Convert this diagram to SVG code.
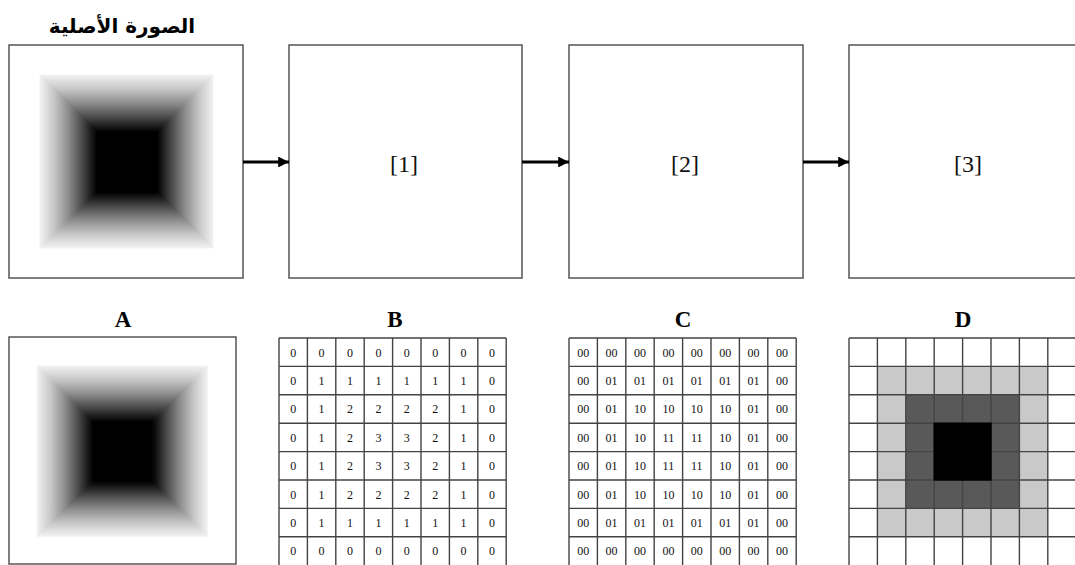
<svg xmlns="http://www.w3.org/2000/svg" width="1075" height="565" viewBox="0 0 1075 565">
<style>
.box{fill:#fff;stroke:#555;stroke-width:1.5}
.lbl{font-family:"Liberation Serif",serif;font-size:24px;fill:#111;text-anchor:middle}
.hd{font-family:"Liberation Serif",serif;font-size:23px;font-weight:bold;fill:#000;text-anchor:middle}
.ar{font-family:"DejaVu Sans","Liberation Sans",sans-serif;font-size:20px;font-weight:bold;fill:#000;text-anchor:middle}
.n{font-family:"Liberation Serif",serif;font-size:12px;fill:#111;text-anchor:middle}
.grid{fill:none;stroke:#444;stroke-width:1.4}
.conn{stroke:#000;stroke-width:3;fill:none}
.lt{fill:#c9c9c9}.dk{fill:#595959}.bk{fill:#000}
</style>
<defs>
<linearGradient id="gT" x1="0" y1="0" x2="0" y2="1"><stop offset="0" stop-color="#f2f2f2"/><stop offset="0.25" stop-color="#c6c6c6"/><stop offset="0.5" stop-color="#8c8c8c"/><stop offset="0.75" stop-color="#474747"/><stop offset="0.92" stop-color="#151515"/><stop offset="1" stop-color="#000"/></linearGradient>
<linearGradient id="gB" href="#gT" x1="0" y1="1" x2="0" y2="0"/>
<linearGradient id="gL" href="#gT" x1="0" y1="0" x2="1" y2="0"/>
<linearGradient id="gR" href="#gT" x1="1" y1="0" x2="0" y2="0"/>
<g id="shade">
<polygon points="0,0 173,0 117,57 57,57" fill="url(#gT)" stroke="url(#gT)" stroke-width="0.8"/>
<polygon points="0,173 173,173 117,117 57,117" fill="url(#gB)" stroke="url(#gB)" stroke-width="0.8"/>
<polygon points="0,0 57,57 57,117 0,173" fill="url(#gL)" stroke="url(#gL)" stroke-width="0.8"/>
<polygon points="173,0 117,57 117,117 173,173" fill="url(#gR)" stroke="url(#gR)" stroke-width="0.8"/>
<rect x="56.5" y="56.5" width="61" height="61" fill="#000"/>
</g>
<marker id="arr" viewBox="0 0 10 10" refX="10" refY="5" markerWidth="3.6" markerHeight="3.6" orient="auto" markerUnits="strokeWidth"><path d="M0,0 L10,5 L0,10 z" fill="#000"/></marker>
</defs>

<g id="original">
<text class="ar" x="122" y="33" direction="rtl">الصورة الأصلية</text>
<rect class="box" x="9" y="45" width="234" height="233"/>
<use href="#shade" transform="translate(40,75)"/>
</g>
<g id="step1">
<rect class="box" x="289" y="45" width="233" height="233"/>
<text class="lbl" x="404" y="172">[1]</text>
</g>
<g id="step2">
<rect class="box" x="569" y="45" width="234" height="233"/>
<text class="lbl" x="685" y="172">[2]</text>
</g>
<g id="step3">
<rect class="box" x="849" y="45" width="234" height="233"/>
<text class="lbl" x="968" y="172">[3]</text>
</g>

<g id="connectors">
<line class="conn" x1="243" y1="162" x2="289" y2="162" marker-end="url(#arr)"/>
<line class="conn" x1="522" y1="162" x2="569" y2="162" marker-end="url(#arr)"/>
<line class="conn" x1="803" y1="162" x2="849" y2="162" marker-end="url(#arr)"/>
</g>

<g id="panelA">
<text class="hd" x="123" y="327">A</text>
<rect class="box" x="9" y="337" width="227" height="227"/>
<use href="#shade" transform="translate(37,366) scale(0.985)"/>
</g>

<g id="panelB">
<text class="hd" x="395" y="327">B</text>
<path class="grid" d="M279,338V566M307.4,338V566M335.8,338V566M364.2,338V566M392.6,338V566M421,338V566M449.4,338V566M477.8,338V566M506.2,338V566M279,338H506.2M279,366.4H506.2M279,394.8H506.2M279,423.2H506.2M279,451.6H506.2M279,480H506.2M279,508.4H506.2M279,536.8H506.2"/>
<text class="n" x="293.2" y="356.5">0</text><text class="n" x="321.6" y="356.5">0</text><text class="n" x="350" y="356.5">0</text><text class="n" x="378.4" y="356.5">0</text><text class="n" x="406.8" y="356.5">0</text><text class="n" x="435.2" y="356.5">0</text><text class="n" x="463.6" y="356.5">0</text><text class="n" x="492" y="356.5">0</text>
<text class="n" x="293.2" y="384.9">0</text><text class="n" x="321.6" y="384.9">1</text><text class="n" x="350" y="384.9">1</text><text class="n" x="378.4" y="384.9">1</text><text class="n" x="406.8" y="384.9">1</text><text class="n" x="435.2" y="384.9">1</text><text class="n" x="463.6" y="384.9">1</text><text class="n" x="492" y="384.9">0</text>
<text class="n" x="293.2" y="413.3">0</text><text class="n" x="321.6" y="413.3">1</text><text class="n" x="350" y="413.3">2</text><text class="n" x="378.4" y="413.3">2</text><text class="n" x="406.8" y="413.3">2</text><text class="n" x="435.2" y="413.3">2</text><text class="n" x="463.6" y="413.3">1</text><text class="n" x="492" y="413.3">0</text>
<text class="n" x="293.2" y="441.7">0</text><text class="n" x="321.6" y="441.7">1</text><text class="n" x="350" y="441.7">2</text><text class="n" x="378.4" y="441.7">3</text><text class="n" x="406.8" y="441.7">3</text><text class="n" x="435.2" y="441.7">2</text><text class="n" x="463.6" y="441.7">1</text><text class="n" x="492" y="441.7">0</text>
<text class="n" x="293.2" y="470.1">0</text><text class="n" x="321.6" y="470.1">1</text><text class="n" x="350" y="470.1">2</text><text class="n" x="378.4" y="470.1">3</text><text class="n" x="406.8" y="470.1">3</text><text class="n" x="435.2" y="470.1">2</text><text class="n" x="463.6" y="470.1">1</text><text class="n" x="492" y="470.1">0</text>
<text class="n" x="293.2" y="498.5">0</text><text class="n" x="321.6" y="498.5">1</text><text class="n" x="350" y="498.5">2</text><text class="n" x="378.4" y="498.5">2</text><text class="n" x="406.8" y="498.5">2</text><text class="n" x="435.2" y="498.5">2</text><text class="n" x="463.6" y="498.5">1</text><text class="n" x="492" y="498.5">0</text>
<text class="n" x="293.2" y="526.9">0</text><text class="n" x="321.6" y="526.9">1</text><text class="n" x="350" y="526.9">1</text><text class="n" x="378.4" y="526.9">1</text><text class="n" x="406.8" y="526.9">1</text><text class="n" x="435.2" y="526.9">1</text><text class="n" x="463.6" y="526.9">1</text><text class="n" x="492" y="526.9">0</text>
<text class="n" x="293.2" y="555.3">0</text><text class="n" x="321.6" y="555.3">0</text><text class="n" x="350" y="555.3">0</text><text class="n" x="378.4" y="555.3">0</text><text class="n" x="406.8" y="555.3">0</text><text class="n" x="435.2" y="555.3">0</text><text class="n" x="463.6" y="555.3">0</text><text class="n" x="492" y="555.3">0</text>
</g>

<g id="panelC">
<text class="hd" x="683" y="327">C</text>
<path class="grid" d="M569,338V566M597.4,338V566M625.8,338V566M654.2,338V566M682.6,338V566M711,338V566M739.4,338V566M767.8,338V566M796.2,338V566M569,338H796.2M569,366.4H796.2M569,394.8H796.2M569,423.2H796.2M569,451.6H796.2M569,480H796.2M569,508.4H796.2M569,536.8H796.2"/>
<text class="n" x="583.2" y="356.5">00</text><text class="n" x="611.6" y="356.5">00</text><text class="n" x="640" y="356.5">00</text><text class="n" x="668.4" y="356.5">00</text><text class="n" x="696.8" y="356.5">00</text><text class="n" x="725.2" y="356.5">00</text><text class="n" x="753.6" y="356.5">00</text><text class="n" x="782" y="356.5">00</text>
<text class="n" x="583.2" y="384.9">00</text><text class="n" x="611.6" y="384.9">01</text><text class="n" x="640" y="384.9">01</text><text class="n" x="668.4" y="384.9">01</text><text class="n" x="696.8" y="384.9">01</text><text class="n" x="725.2" y="384.9">01</text><text class="n" x="753.6" y="384.9">01</text><text class="n" x="782" y="384.9">00</text>
<text class="n" x="583.2" y="413.3">00</text><text class="n" x="611.6" y="413.3">01</text><text class="n" x="640" y="413.3">10</text><text class="n" x="668.4" y="413.3">10</text><text class="n" x="696.8" y="413.3">10</text><text class="n" x="725.2" y="413.3">10</text><text class="n" x="753.6" y="413.3">01</text><text class="n" x="782" y="413.3">00</text>
<text class="n" x="583.2" y="441.7">00</text><text class="n" x="611.6" y="441.7">01</text><text class="n" x="640" y="441.7">10</text><text class="n" x="668.4" y="441.7">11</text><text class="n" x="696.8" y="441.7">11</text><text class="n" x="725.2" y="441.7">10</text><text class="n" x="753.6" y="441.7">01</text><text class="n" x="782" y="441.7">00</text>
<text class="n" x="583.2" y="470.1">00</text><text class="n" x="611.6" y="470.1">01</text><text class="n" x="640" y="470.1">10</text><text class="n" x="668.4" y="470.1">11</text><text class="n" x="696.8" y="470.1">11</text><text class="n" x="725.2" y="470.1">10</text><text class="n" x="753.6" y="470.1">01</text><text class="n" x="782" y="470.1">00</text>
<text class="n" x="583.2" y="498.5">00</text><text class="n" x="611.6" y="498.5">01</text><text class="n" x="640" y="498.5">10</text><text class="n" x="668.4" y="498.5">10</text><text class="n" x="696.8" y="498.5">10</text><text class="n" x="725.2" y="498.5">10</text><text class="n" x="753.6" y="498.5">01</text><text class="n" x="782" y="498.5">00</text>
<text class="n" x="583.2" y="526.9">00</text><text class="n" x="611.6" y="526.9">01</text><text class="n" x="640" y="526.9">01</text><text class="n" x="668.4" y="526.9">01</text><text class="n" x="696.8" y="526.9">01</text><text class="n" x="725.2" y="526.9">01</text><text class="n" x="753.6" y="526.9">01</text><text class="n" x="782" y="526.9">00</text>
<text class="n" x="583.2" y="555.3">00</text><text class="n" x="611.6" y="555.3">00</text><text class="n" x="640" y="555.3">00</text><text class="n" x="668.4" y="555.3">00</text><text class="n" x="696.8" y="555.3">00</text><text class="n" x="725.2" y="555.3">00</text><text class="n" x="753.6" y="555.3">00</text><text class="n" x="782" y="555.3">00</text>
</g>

<g id="panelD">
<text class="hd" x="963" y="327">D</text>
<rect class="lt" x="877.4" y="366.4" width="170.4" height="170.4"/>
<rect class="dk" x="905.8" y="394.8" width="113.6" height="113.6"/>
<path class="grid" d="M849,338V566M877.4,338V566M905.8,338V566M934.2,338V566M962.6,338V566M991,338V566M1019.4,338V566M1047.8,338V566M1076.2,338V566M849,338H1076.2M849,366.4H1076.2M849,394.8H1076.2M849,423.2H1076.2M849,451.6H1076.2M849,480H1076.2M849,508.4H1076.2M849,536.8H1076.2"/>
<rect class="bk" x="933.5" y="422.5" width="58.2" height="58.2"/>
</g>
</svg>
